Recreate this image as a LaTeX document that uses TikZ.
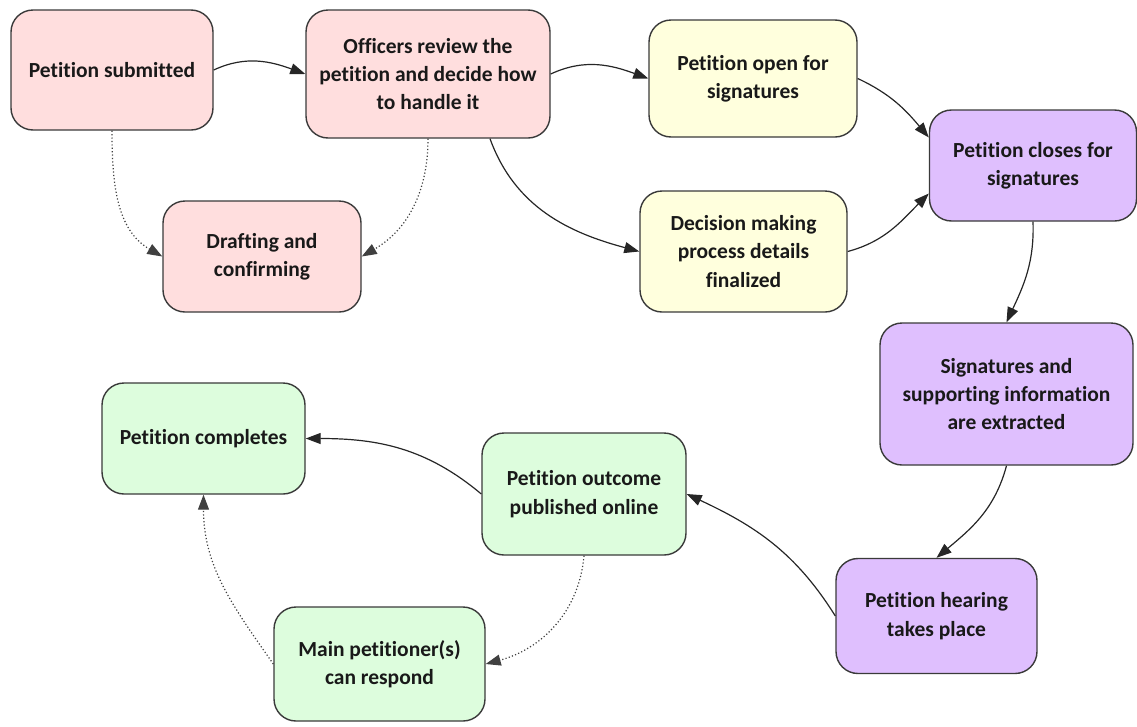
\documentclass[tikz,border=0pt]{standalone}
\usepackage{fontspec}
\setmainfont{Carlito}[Ligatures=NoCommon,RawFeature={-liga;-clig;-dlig}]
\usetikzlibrary{arrows.meta,calc}
\definecolor{boxline}{HTML}{3A3A3A}
\definecolor{pinkfill}{HTML}{FFDEDE}
\definecolor{yellowfill}{HTML}{FFFFDD}
\definecolor{purplefill}{HTML}{DFBFFE}
\definecolor{greenfill}{HTML}{DDFDDD}
\begin{document}
\begin{tikzpicture}[x=1pt,y=1pt,
  box/.style={draw=boxline, line width=1.4pt, rounded corners=22pt, align=center,
    inner sep=0pt, font=\fontsize{21.5}{28.3}\selectfont\bfseries, text=black!90},
  flow/.style={draw=black!85, line width=1.2pt, -{Triangle[length=15pt,width=11pt]}},
  weak/.style={flow, draw=black!75, dash pattern=on 1.2pt off 2.2pt}
]
\useasboundingbox (0,0) rectangle (1137,-726);

% stage 1: submission and review
\node[box, fill=pinkfill, minimum width=202pt, minimum height=120pt] (sub) at (112,-70) {Petition submitted};
\node[box, fill=pinkfill, minimum width=244pt, minimum height=128pt] (off) at (428,-74) {Officers review the\\petition and decide how\\to handle it};
\node[box, fill=pinkfill, minimum width=198pt, minimum height=111pt] (draft) at (262,-256.5) {Drafting and\\confirming};

% stage 2: signatures and preparation
\node[box, fill=yellowfill, minimum width=208pt, minimum height=117pt] (open) at (753,-78.5) {Petition open for\\signatures};
\node[box, fill=yellowfill, minimum width=207pt, minimum height=121pt] (dec) at (743.5,-251.5) {Decision making\\process details\\finalized};

% stage 3: closing and hearing
\node[box, fill=purplefill, minimum width=207pt, minimum height=111pt] (close) at (1033,-165.5) {Petition closes for\\signatures};
\node[box, fill=purplefill, minimum width=253pt, minimum height=142pt] (sig) at (1006.5,-394) {Signatures and\\supporting information\\are extracted};
\node[box, fill=purplefill, minimum width=201pt, minimum height=115pt] (hear) at (936.5,-616) {Petition hearing\\takes place};

% stage 4: outcome
\node[box, fill=greenfill, minimum width=204pt, minimum height=122pt] (out) at (584,-494) {Petition outcome\\published online};
\node[box, fill=greenfill, minimum width=203pt, minimum height=111pt] (comp) at (203.5,-438.5) {Petition completes};
\node[box, fill=greenfill, minimum width=211pt, minimum height=114pt] (main) at (379.5,-664) {Main petitioner(s)\\can respond};

% main flow
\draw[flow] (sub.east) to[out=25,in=160] (off.west);
\draw[flow] (off.east) to[out=25,in=160] (open.west);
\draw[flow] ($(off.south)+(62,0)$) to[out=-70,in=165] (dec.west);
\draw[flow] (open.east) to[out=-25,in=130] ($(close.west)+(0,28)$);
\draw[flow] (dec.east) to[out=15,in=-135] ($(close.west)+(0,-28)$);
\draw[flow] (close.south) to[out=-88,in=65] (sig.north);
\draw[flow] (sig.south) to[out=-105,in=40] (hear.north);
\draw[flow] (hear.west) to[out=122,in=-25] (out.east);
\draw[flow] (out.west) to[out=140,in=0] (comp.east);

% optional steps
\draw[weak] (sub.south) to[out=-90,in=150] (draft.west);
\draw[weak] (off.south) to[out=-90,in=30] (draft.east);
\draw[weak] (out.south) to[out=-95,in=15] (main.east);
\draw[weak] (main.west) to[out=125,in=-90] (comp.south);
\end{tikzpicture}
\end{document}
